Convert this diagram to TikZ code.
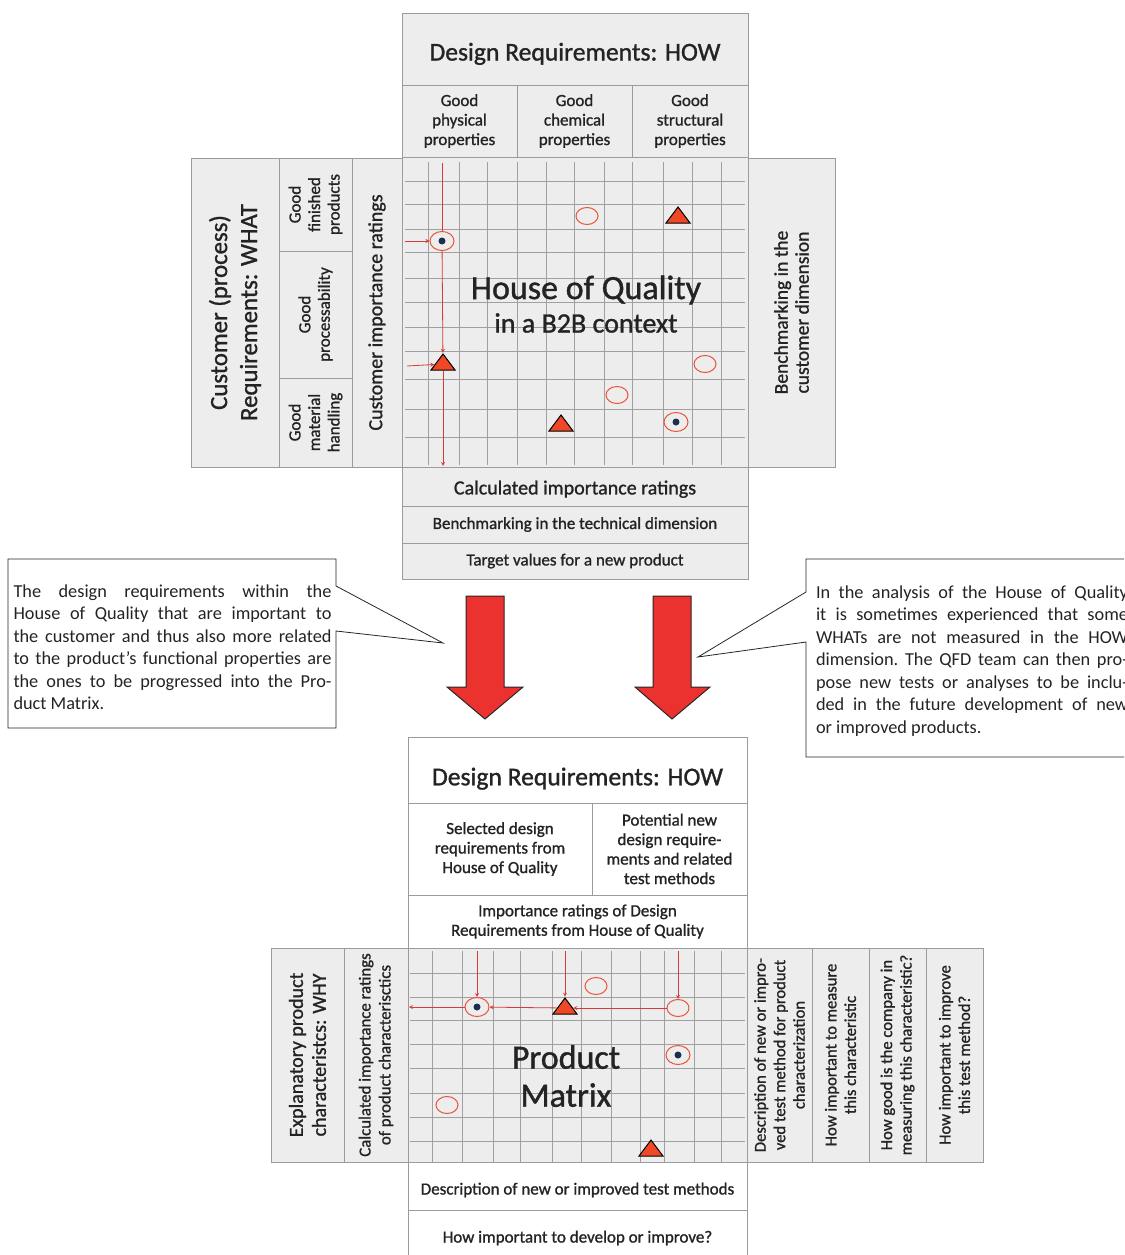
\documentclass[tikz,border=0pt]{standalone}
\usepackage{fontspec}
\setmainfont{Carlito}[FakeBold=1.1]
\newfontfamily\noteface{Carlito}[Ligatures=TeX]
\usetikzlibrary{shapes.geometric, arrows, calc, positioning}

\definecolor{panelgray}{RGB}{237,237,237}
\definecolor{framegray}{RGB}{155,155,155}
\definecolor{gridgray}{RGB}{160,160,160}
\definecolor{inkgray}{RGB}{35,35,35}
\definecolor{linered}{RGB}{214,58,58}
\definecolor{ringred}{RGB}{236,82,56}
\definecolor{trired}{RGB}{240,72,38}
\definecolor{dotblue}{RGB}{28,48,78}
\definecolor{arrowred}{RGB}{236,50,46}

\tikzstyle{panel} = [rectangle, draw=framegray, line width=1pt, fill=panelgray,
inner sep=2pt, outer sep=0pt, align=center, text=inkgray]
\tikzstyle{blank} = [panel, fill=white]
\tikzstyle{fhead} = [font=\fontsize{25.6}{30}\selectfont]
\tikzstyle{fmid} = [font=\fontsize{20}{23}\selectfont]
\tikzstyle{fsmall} = [font=\fontsize{17}{19.5}\selectfont]
\tikzstyle{gridline} = [draw=gridgray, line width=1pt]
\tikzstyle{arrow} = [draw=linered, line width=0.8pt, ->, >=stealth]
\tikzstyle{redline} = [draw=linered, line width=0.8pt]
\tikzstyle{ring} = [ellipse, draw=ringred, line width=1pt, fill=panelgray,
minimum width=22pt, minimum height=17pt, inner sep=0pt]
\tikzstyle{dotring} = [ring, minimum width=24pt, minimum height=19pt,
path picture={\fill[dotblue] (path picture bounding box.center) circle (3.5pt);}]
\tikzstyle{tri} = [isosceles triangle, isosceles triangle stretches, shape border rotate=90,
draw=black, line width=1pt, fill=trired, inner sep=0pt, minimum width=24pt, minimum height=16pt]
\tikzstyle{note} = [text width=312pt, align=justify, inner sep=0pt, text=inkgray,
font=\noteface\fontsize{18.3}{22.5}\selectfont\frenchspacing]
\tikzstyle{callout} = [draw=black!85, line width=0.8pt]
\tikzstyle{bigarrow} = [draw=black!85, line width=1pt, fill=arrowred]

\begin{document}
\begin{tikzpicture}[x=1pt, y=-1pt]
  \useasboundingbox (0,0) rectangle (1124,1255);
  \clip (0,0) rectangle (1124,1255);

  % House of Quality
  \node (howtop) [panel, fhead, text height=22pt, text depth=0pt, minimum width=346pt, minimum height=71pt] at (575,49.5) {Design Requirements: HOW};
  \node (physical) [panel, fsmall, minimum width=115pt, minimum height=72pt, below right=0pt and 0pt of howtop.south west] {Good\\physical\\properties};
  \node (chemical) [panel, fsmall, minimum width=115pt, minimum height=72pt, right=0pt of physical] {Good\\chemical\\properties};
  \node (structural) [panel, fsmall, minimum width=116pt, minimum height=72pt, right=0pt of chemical] {Good\\structural\\properties};
  \node (hoq) [panel, minimum width=346pt, minimum height=310pt, below right=0pt and 0pt of physical.south west] {};
  \node (calcrow) [panel, fmid, text height=15.8pt, text depth=0pt, minimum width=346pt, minimum height=39pt, below=0pt of hoq] {Calculated importance ratings};
  \node (techrow) [panel, fsmall, minimum width=346pt, minimum height=37pt, below=0pt of calcrow] {Benchmarking in the technical dimension};
  \node (targetrow) [panel, fsmall, minimum width=346pt, minimum height=36pt, below=0pt of techrow] {Target values for a new product};

  \node (what) [panel, rotate=90, minimum width=309pt, minimum height=88pt, font=\fontsize{24.8}{30}\selectfont] at (235,312.5) {Customer (process)\\Requirements: WHAT};
  \node (finished) [panel, fsmall, rotate=90, minimum width=93pt, minimum height=73pt] at (315.5,204.5) {Good\\finished\\products};
  \node (processing) [panel, fsmall, rotate=90, minimum width=127pt, minimum height=73pt] at (315.5,314.5) {Good\\processability};
  \node (handling) [panel, fsmall, rotate=90, minimum width=89pt, minimum height=73pt] at (315.5,422.5) {Good\\material\\handling};
  \node (custimp) [panel, fmid, rotate=90, minimum width=309pt, minimum height=50pt] at (377,312.5) {Customer importance ratings};
  \node (benchcust) [panel, rotate=90, minimum width=309pt, minimum height=87pt, font=\fontsize{19.5}{21}\selectfont] at (791.5,312.5) {Benchmarking in the\\customer dimension};

  \foreach \x in {428,459,487,517,546,574,604,632,663,692,721}
    \draw[gridline] (\x,162) -- (\x,465);
  \foreach \y in {181,204,229,252,278,302,327,351,379,409,437}
    \draw[gridline] (405,\y) -- (745,\y);

  \node (hoqtitle) [text=inkgray, font=\fontsize{34}{36}\selectfont] at (586,290) {House of Quality};
  \node (hoqsub) [text=inkgray, font=\fontsize{28}{30}\selectfont] at (586,323) {in a B2B context};

  \node (m1) [dotring] at (442,241) {};
  \node (m2) [ring] at (587,216) {};
  \node (m3) [tri] at (678,217) {};
  \node (m4) [tri] at (443,364) {};
  \node (m5) [ring] at (705,364) {};
  \node (m6) [ring] at (617,395) {};
  \node (m7) [tri] at (561,425) {};
  \node (m8) [dotring] at (676,422) {};

  \coordinate (qtop) at (442,163);
  \coordinate (qbot) at (443,466);
  \coordinate (qin1) at (405,241);
  \coordinate (qin2) at (407,366);
  \draw [redline] (qtop) -- (m1);
  \draw [arrow] (m1) -- (m4);
  \draw [arrow] (m4) -- (qbot);
  \draw [arrow] (qin1) -- (m1);
  \draw [arrow] (qin2) -- (m4);

  % notes and arrows
  \node (leftnote) [note, text width=318pt] at (172.5,647) {The design requirements within the\linebreak House of Quality that are important to\linebreak the customer and thus also more related\linebreak to the product’s functional properties are\linebreak the ones to be progressed into the Pro-\linebreak duct Matrix.};
  \coordinate (leftpin) at (443,643);
  \draw [callout] (336,586) -- (336,559) -- (8,559) -- (8,728) -- (336,728) -- (336,631) -- (leftpin) -- cycle;

  \node (rightnote) [note] at (972,661) {In the analysis of the House of Quality\linebreak it is sometimes experienced that some\linebreak WHATs are not measured in the HOW\linebreak dimension. The QFD team can then pro-\linebreak pose new tests or analyses to be inclu-\linebreak ded in the future development of new\linebreak or improved products.};
  \coordinate (rightpin) at (698,657);
  \draw [callout] (806,592) -- (806,559) -- (1140,559) -- (1140,757) -- (806,757) -- (806,642) -- (rightpin) -- cycle;

  \draw [bigarrow] (466,596) -- (504,596) -- (504,687) -- (523,687) -- (485,719) -- (447,687) -- (466,687) -- cycle;
  \draw [bigarrow] (653,596) -- (691,596) -- (691,687) -- (710,687) -- (672,719) -- (635,687) -- (653,687) -- cycle;

  % Product Matrix
  \node (howlow) [blank, fhead, text height=30.6pt, text depth=0pt, minimum width=339pt, minimum height=66pt] at (577.5,770) {Design Requirements: HOW};
  \node (selected) [blank, fsmall, minimum width=184pt, minimum height=92pt, below right=0pt and 0pt of howlow.south west] {Selected design\\requirements from\\House of Quality};
  \node (potential) [blank, fsmall, minimum width=155pt, minimum height=92pt, right=0pt of selected] {Potential new\\design require-\\ments and related\\test methods};
  \node (imprat) [blank, fsmall, minimum width=339pt, minimum height=53pt, below right=0pt and 0pt of selected.south west] {Importance ratings of Design\\Requirements from House of Quality};
  \node (pm) [panel, minimum width=339pt, minimum height=214pt, below=0pt of imprat] {};
  \node (descrow) [blank, fsmall, text height=17pt, text depth=0pt, minimum width=339pt, minimum height=48pt, below=0pt of pm] {Description of new or improved test methods};
  \node (devrow) [blank, fsmall, minimum width=339pt, minimum height=56pt, below=0pt of descrow] {How important to develop or improve?};

  \node (why) [panel, rotate=90, minimum width=214pt, minimum height=73pt, font=\fontsize{20}{23}\selectfont] at (307.5,1055) {Explanatory product\\characteristcs: WHY};
  \node (calcprod) [panel, rotate=90, minimum width=214pt, minimum height=64pt, font=\fontsize{16.8}{20}\selectfont] at (376,1055) {Calculated importance ratings\\of product characterisctics};
  \node (newtest) [panel, rotate=90, minimum width=214pt, minimum height=65pt, font=\fontsize{16.6}{19.5}\selectfont] at (779.5,1055) {Description of new or impro-\\ved test method for product\\characterization};
  \node (measure) [panel, rotate=90, minimum width=214pt, minimum height=57pt, font=\fontsize{16.6}{19.5}\selectfont] at (840.5,1055) {How important to measure\\this characteristic};
  \node (company) [panel, rotate=90, minimum width=214pt, minimum height=57pt, font=\fontsize{16.6}{19.5}\selectfont] at (897.5,1055) {How good is the company in\\measuring this characteristic?};
  \node (improve) [panel, rotate=90, minimum width=214pt, minimum height=57pt, font=\fontsize{16.6}{19.5}\selectfont] at (954.5,1055) {How important to improve\\this test method?};

  \foreach \x in {432,462,493,520,552,581,611,640,664,694,721}
    \draw[gridline] (\x,951) -- (\x,1162);
  \foreach \y in {973,997,1020,1044,1068,1093,1117,1141}
    \draw[gridline] (410,\y) -- (745,\y);

  \node (pmtitle) [text=inkgray, align=center, font=\fontsize{34}{38}\selectfont] at (566,1076) {Product\\Matrix};

  \node (p1) [dotring] at (477,1007) {};
  \node (p2) [tri] at (565,1008) {};
  \node (p3) [ring] at (678,1008) {};
  \node (p4) [ring] at (596,986) {};
  \node (p5) [dotring] at (678,1055) {};
  \node (p6) [ring] at (447,1105) {};
  \node (p7) [tri] at (651,1150) {};

  \coordinate (ptop1) at (477,951);
  \coordinate (ptop2) at (565,951);
  \coordinate (ptop3) at (678,951);
  \coordinate (pout) at (409,1007);
  \draw [arrow] (ptop1) -- (p1);
  \draw [arrow] (ptop2) -- (p2);
  \draw [arrow] (ptop3) -- (p3);
  \draw [arrow] (p3) -- (p2);
  \draw [arrow] (p2) -- (p1);
  \draw [arrow] (p1) -- (pout);
\end{tikzpicture}
\end{document}
